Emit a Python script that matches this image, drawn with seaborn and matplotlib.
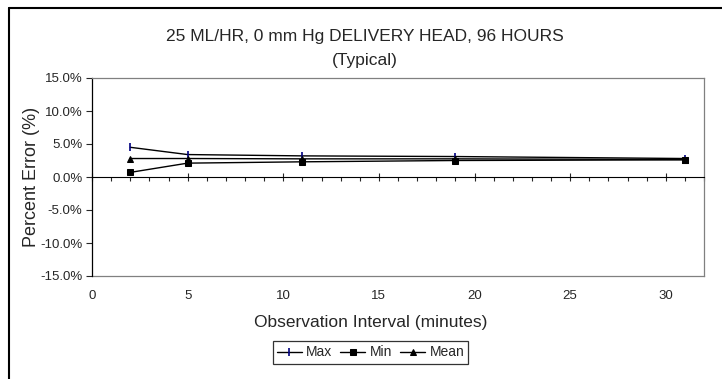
import matplotlib
matplotlib.use("Agg")
import matplotlib.pyplot as plt
from matplotlib.lines import Line2D
from matplotlib.ticker import MultipleLocator, FuncFormatter
import pandas as pd
import seaborn as sns

# data
interval = [2, 5, 11, 19, 31]
err_max = [4.5, 3.4, 3.2, 3.1, 2.8]
err_min = [0.7, 2.1, 2.3, 2.5, 2.6]
err_mean = [2.8, 2.8, 2.75, 2.75, 2.65]

sns.set_style("white")
plt.rcParams["font.family"] = ["Liberation Sans", "DejaVu Sans"]

fig = plt.figure(figsize=(7.22, 3.79), dpi=100)
ax = fig.add_axes([92 / 722, 1 - 276 / 379, 612 / 722, 198 / 379])

df = pd.DataFrame({"interval": interval, "Max": err_max, "Min": err_min, "Mean": err_mean})

sns.lineplot(data=df, x="interval", y="Max", ax=ax, color="black", lw=1,
             marker="|", markersize=6, markeredgecolor="#000080", markeredgewidth=1.2,
             label="Max")
sns.lineplot(data=df, x="interval", y="Min", ax=ax, color="black", lw=1,
             marker="s", markersize=4.5, markerfacecolor="black", markeredgecolor="black",
             label="Min")
sns.lineplot(data=df, x="interval", y="Mean", ax=ax, color="black", lw=1,
             marker="^", markersize=4, markerfacecolor="black", markeredgecolor="black",
             label="Mean")

ax.set_xlim(0, 32)
ax.set_ylim(-15, 15)
ax.yaxis.set_major_locator(MultipleLocator(5))
ax.yaxis.set_major_formatter(FuncFormatter(lambda v, p: f"{v:.1f}%"))
ax.xaxis.set_major_locator(MultipleLocator(5))
ax.xaxis.set_minor_locator(MultipleLocator(1))

# axis line through zero
ax.spines["bottom"].set_position(("data", 0))
ax.spines["bottom"].set_color("black")
ax.spines["bottom"].set_linewidth(0.8)
ax.spines["left"].set_color("black")
ax.spines["left"].set_linewidth(0.9)
for s in ["top", "right"]:
    ax.spines[s].set_color("#808080")
    ax.spines[s].set_linewidth(0.9)

ax.tick_params(axis="x", which="major", bottom=True, direction="inout", length=6,
               width=0.8, labelbottom=False)
ax.tick_params(axis="x", which="minor", bottom=True, direction="out", length=3, width=0.8)
ax.tick_params(axis="y", left=True, direction="out", length=4, width=0.8,
               labelsize=9.5, pad=3)

# tick labels at the bottom of the plot area
sec = ax.secondary_xaxis("bottom")
sec.set_xticks(range(0, 31, 5))
sec.tick_params(length=0, pad=10, labelsize=9.5)
sec.spines["bottom"].set_color("#808080")
sec.spines["bottom"].set_linewidth(0.9)

ax.set_xlabel("")
ax.set_ylabel("Percent Error (%)", fontsize=13)
ax.yaxis.set_label_coords(-0.085, 0.5)

fig.text(365 / 722, 1 - 37 / 379, "25 ML/HR, 0 mm Hg DELIVERY HEAD, 96 HOURS",
         ha="center", va="center", fontsize=12.5)
fig.text(365 / 722, 1 - 60 / 379, "(Typical)", ha="center", va="center", fontsize=12.5)
fig.text(371 / 722, 1 - 323 / 379, "Observation Interval (minutes)",
         ha="center", va="center", fontsize=12.5)

handles, labels = ax.get_legend_handles_labels()
ax.get_legend().remove()
leg = fig.legend(handles, labels, loc="center", bbox_to_anchor=(370.5 / 722, 1 - 352.5 / 379),
                 ncol=3, fontsize=10, frameon=True, fancybox=False, edgecolor="black",
                 handlelength=1.8, handletextpad=0.3, columnspacing=0.6, borderpad=0.3)
leg.get_frame().set_linewidth(0.9)

# outer chart border: only the left and top edges fall inside the image
bx, by = 9 / 722, 1 - 8 / 379
fig.lines.append(Line2D([bx, bx], [0, by], transform=fig.transFigure, color="black", lw=1.5))
fig.lines.append(Line2D([bx, 1], [by, by], transform=fig.transFigure, color="black", lw=1.5))

fig.savefig("out.png", dpi=100)
